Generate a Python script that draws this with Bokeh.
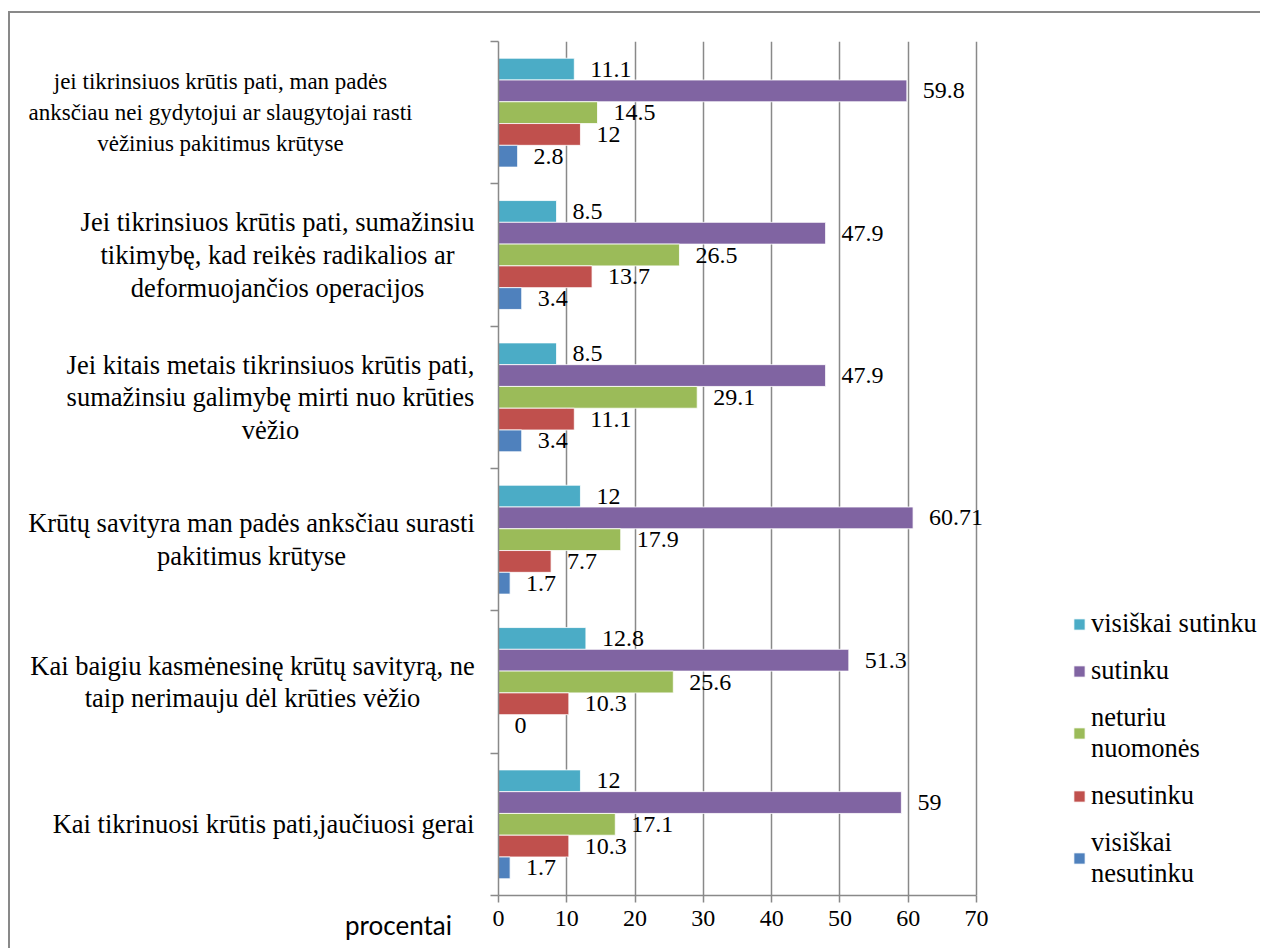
from bokeh.plotting import figure
from bokeh.layouts import row
from bokeh.models import (ColumnDataSource, Range1d, FixedTicker, CDSView, IndexFilter,
                          LabelSet, Legend, LegendItem)
from bokeh.transform import dodge
from bokeh.core.properties import value
from bokeh.embed import file_html
from bokeh.resources import INLINE

# ---------------- data ----------------
categories = [
    "jei tikrinsiuos krūtis pati, man padės\nanksčiau nei gydytojui ar slaugytojai rasti\nvėžinius pakitimus krūtyse",
    "Jei tikrinsiuos krūtis pati, sumažinsiu\ntikimybę, kad reikės radikalios ar\ndeformuojančios operacijos",
    "Jei kitais metais tikrinsiuos krūtis pati,\nsumažinsiu galimybę mirti nuo krūties\nvėžio",
    "Krūtų savityra man padės anksčiau surasti\npakitimus krūtyse",
    "Kai baigiu kasmėnesinę krūtų savityrą, ne\ntaip nerimauju dėl krūties vėžio",
    "Kai tikrinuosi krūtis pati,jaučiuosi gerai",
]
series_labels = ["visiškai sutinku", "sutinku", "neturiu\nnuomonės", "nesutinku", "visiškai\nnesutinku"]
visiskai_sutinku = [11.1, 8.5, 8.5, 12, 12.8, 12]
sutinku = [59.8, 47.9, 47.9, 60.71, 51.3, 59]
neturiu_nuomones = [14.5, 26.5, 29.1, 17.9, 25.6, 17.1]
nesutinku = [12, 13.7, 11.1, 7.7, 10.3, 10.3]
visiskai_nesutinku = [2.8, 3.4, 3.4, 1.7, 0, 1.7]
x_ticks = [0, 10, 20, 30, 40, 50, 60, 70]
axis_title = "procentai"

# ---------------- styles / layout ----------------
colors = ["#4BACC6", "#8064A2", "#9BBB59", "#C0504D", "#4F81BD"]
bar_h = 0.153
offsets = [2 * bar_h, bar_h, 0.0, -bar_h, -2 * bar_h]
label_cx = [210, 267, 260, 241, 242, 253]   # label centres, px in the label panel
title_x = 388                               # axis-title centre, px in the label panel
SERIF = "Liberation Serif"
GRAY = "#898989"
H = 935
TOP, BOTTOM = 28, 53
MAIN_W, MAIN_LEFT = 770, 8
AXIS_PX = 478                               # pixel length of the 0..70 axis
FRAME_W = MAIN_W - MAIN_LEFT
x_end = 70 * FRAME_W / AXIS_PX

series_values = [visiskai_sutinku, sutinku, neturiu_nuomones, nesutinku, visiskai_nesutinku]
n = len(categories)

# category slots: first category at the top of the axis
data = dict(cat=categories, pos=[n - k - 0.5 for k in range(n)], lx=label_cx)
for i, vals in enumerate(series_values):
    data[f"v{i}"] = vals
    data[f"t{i}"] = [f"{v:g}" for v in vals]
src = ColumnDataSource(data)

yr = Range1d(0, n)

# ---------- left panel: category labels + axis title ----------
lp = figure(width=480, height=H, x_range=Range1d(0, 480), y_range=yr, y_axis_location=None,
            output_backend="svg", toolbar_location=None,
            min_border_left=0, min_border_right=0, min_border_top=TOP, min_border_bottom=BOTTOM)
lp.outline_line_color = None
lp.grid.visible = False
lp.xaxis.ticker = FixedTicker(ticks=[title_x])
lp.xaxis.major_label_overrides = {title_x: axis_title}
lp.xaxis.axis_line_color = None
lp.xaxis.major_tick_line_color = None
lp.xaxis.minor_tick_line_color = None
lp.xaxis.major_tick_out = 7
lp.xaxis.major_label_standoff = 6
lp.xaxis.major_label_text_font = "Lato"
lp.xaxis.major_label_text_font_size = "26px"
lp.xaxis.major_label_text_color = "black"
# first label is set smaller in the original, the rest larger
lp.text(x="lx", y="pos", text="cat", source=src, view=CDSView(filter=IndexFilter([0])),
        text_align="center", text_baseline="middle",
        text_font=value(SERIF), text_font_size="23px", text_line_height=1.24, text_color="black")
lp.text(x="lx", y="pos", text="cat", source=src, view=CDSView(filter=IndexFilter(list(range(1, n)))),
        text_align="center", text_baseline="middle",
        text_font=value(SERIF), text_font_size="26.5px", text_line_height=1.09, text_color="black")

# ---------- main chart ----------
p = figure(width=MAIN_W, height=H, y_range=yr, x_range=Range1d(0, x_end),
           output_backend="svg", toolbar_location=None,
           min_border_left=MAIN_LEFT, min_border_right=0, min_border_top=TOP, min_border_bottom=BOTTOM)
p.outline_line_color = None

p.xaxis.ticker = FixedTicker(ticks=x_ticks)
p.xaxis.bounds = (0, 70)
p.xaxis.major_tick_out = 7
p.xaxis.major_tick_in = 0
p.xaxis.minor_tick_out = 0
p.xaxis.minor_tick_in = 0
p.xaxis.axis_line_color = GRAY
p.xaxis.axis_line_width = 1.5
p.xaxis.major_tick_line_color = GRAY
p.xaxis.major_tick_line_width = 1.5
p.xaxis.major_label_text_font = SERIF
p.xaxis.major_label_text_font_size = "24px"
p.xaxis.major_label_text_color = "black"
p.xaxis.major_label_standoff = 8
p.xgrid.ticker = FixedTicker(ticks=x_ticks)
p.xgrid.grid_line_color = GRAY
p.xgrid.grid_line_width = 1.5
p.ygrid.visible = False

y_ticks = list(range(n + 1))
p.yaxis.ticker = FixedTicker(ticks=y_ticks)
p.yaxis.major_label_overrides = {t: "" for t in y_ticks}
p.yaxis.major_label_standoff = 0
p.yaxis.major_tick_out = 8
p.yaxis.major_tick_in = 0
p.yaxis.minor_tick_out = 0
p.yaxis.minor_tick_in = 0
p.yaxis.axis_line_color = GRAY
p.yaxis.axis_line_width = 1.5
p.yaxis.major_tick_line_color = GRAY
p.yaxis.major_tick_line_width = 1.5

renderers = []
for i in range(len(series_values)):
    r = p.hbar(y=dodge("pos", offsets[i]), left=0, right=f"v{i}", height=bar_h, source=src,
               fill_color=colors[i], line_color="white", line_width=0.8)
    renderers.append(r)
    p.add_layout(LabelSet(x=f"v{i}", y=dodge("pos", offsets[i]), text=f"t{i}",
                          source=src, x_offset=16, text_align="left", text_baseline="middle",
                          text_font=value(SERIF), text_font_size="24px", text_color="black"))

legend = Legend(items=[LegendItem(label=series_labels[i], renderers=[renderers[i]])
                       for i in range(len(series_values))],
                location=(574, 6), orientation="vertical",
                glyph_width=14, glyph_height=14, label_standoff=5, spacing=16,
                padding=0, margin=0, border_line_color=None, background_fill_alpha=0,
                label_text_font=SERIF, label_text_font_size="26.5px",
                label_text_line_height=0.95, label_text_color="black")
p.add_layout(legend)

layout = row(lp, p, spacing=0)
layout.styles = {"margin-left": "8px", "margin-top": "11px",
                 "border-left": f"2px solid {GRAY}", "border-top": f"2px solid {GRAY}"}

open("out.html", "w").write(file_html(layout, INLINE, title="Krūtų savityra"))
